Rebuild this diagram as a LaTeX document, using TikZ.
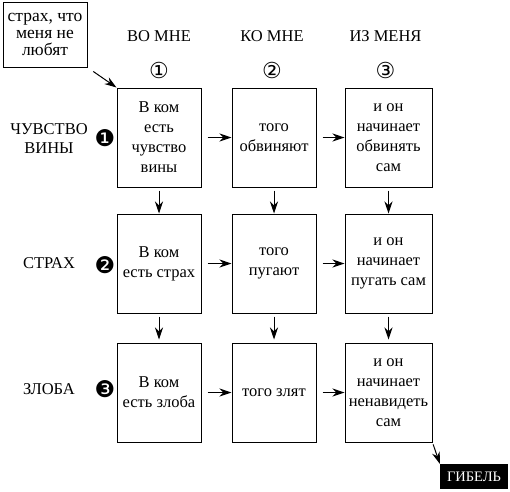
\documentclass[tikz,border=0pt]{standalone}
\usepackage{fontspec}
\setmainfont{Liberation Serif}
\newfontfamily\dejavu{DejaVu Sans}
\usetikzlibrary{arrows.meta}
\usetikzlibrary{positioning}

\begin{document}
\begin{tikzpicture}[x=1pt, y=-1pt,
    block/.style={rectangle, draw, line width=1pt, minimum width=84pt, minimum height=99pt, inner xsep=1pt, align=center, font=\fontsize{16.5}{20}\selectfont},
    arrow/.style={-{Stealth[length=12pt,width=8pt]}, line width=1pt},
    head/.style={font=\fontsize{16.5}{20}\selectfont},
    rowname/.style={align=center, font=\fontsize{16.5}{19}\selectfont},
    numw/.style={font=\dejavu\fontsize{22}{22}\selectfont, inner sep=0pt},
    numb/.style={font=\dejavu\fontsize{23}{23}\selectfont, inner sep=0pt},
    ]
    \useasboundingbox (0,0) rectangle (510,491);

    % Note box
    \node [draw, line width=1pt, align=center, minimum width=84pt, minimum height=65pt, inner xsep=1pt, font=\fontsize{17.5}{17}\selectfont] (fear) at (45,34.5) {страх, что\\меня не\\любят};

    % First row
    \node [block] (b11) at (159,137.5) {В ком\\есть\\чувство\\вины};
    \node [block, right=30pt of b11] (b12) {того\\обвиняют};
    \node [block, right=28pt of b12, minimum width=87pt] (b13) {и он\\начинает\\обвинять\\сам};

    % Second row
    \node [block, below=26pt of b11] (b21) {В ком\\есть страх};
    \node [block, below=26pt of b12] (b22) {того\\пугают};
    \node [block, below=26pt of b13, minimum width=87pt] (b23) {и он\\начинает\\пугать сам};

    % Third row
    \node [block, below=29pt of b21] (b31) {В ком\\есть злоба};
    \node [block, below=29pt of b22] (b32) {того злят};
    \node [block, below=29pt of b23, minimum width=87pt] (b33) {и он\\начинает\\ненавидеть\\сам};

    % Column heads
    \node [head] (c1) at (159,36) {ВО МНЕ};
    \node [head] (c2) at (272,36) {КО МНЕ};
    \node [head] (c3) at (385.5,36) {ИЗ МЕНЯ};
    \node [numw] (n1) at (159,70) {①};
    \node [numw] (n2) at (272,70) {②};
    \node [numw] (n3) at (385.5,70) {③};

    % Row names
    \node [rowname] (r1) at (49,139) {ЧУВСТВО\\ВИНЫ};
    \node [rowname] (r2) at (49,263) {СТРАХ};
    \node [rowname] (r3) at (49,389) {ЗЛОБА};
    \node [numb] (k1) at (105,138) {❶};
    \node [numb] (k2) at (105,265) {❷};
    \node [numb] (k3) at (105,389) {❸};

    % End
    \node [fill=black, text=white, minimum width=68pt, minimum height=25pt, inner sep=0pt, font=\fontsize{14.5}{16}\selectfont] (gib) at (474,476.5) {ГИБЕЛЬ};

    % Arrows across
    \foreach \r in {1,2,3} {
        \draw [arrow, shorten <=6pt] (b\r1.east) -- (b\r2.west);
        \draw [arrow, shorten <=6pt] (b\r2.east) -- (b\r3.west);
    }
    % Arrows down
    \foreach \c in {1,2,3} {
        \draw [arrow, shorten <=3pt] (b1\c.south) -- (b2\c.north);
        \draw [arrow, shorten <=3pt, shorten >=3pt] (b2\c.south) -- (b3\c.north);
    }
    \draw [arrow, shorten <=7pt] (fear.south east) -- (b11.north west);
    \draw [arrow, shorten <=2pt] (b33.south east) -- (gib.north west);

\end{tikzpicture}
\end{document}
